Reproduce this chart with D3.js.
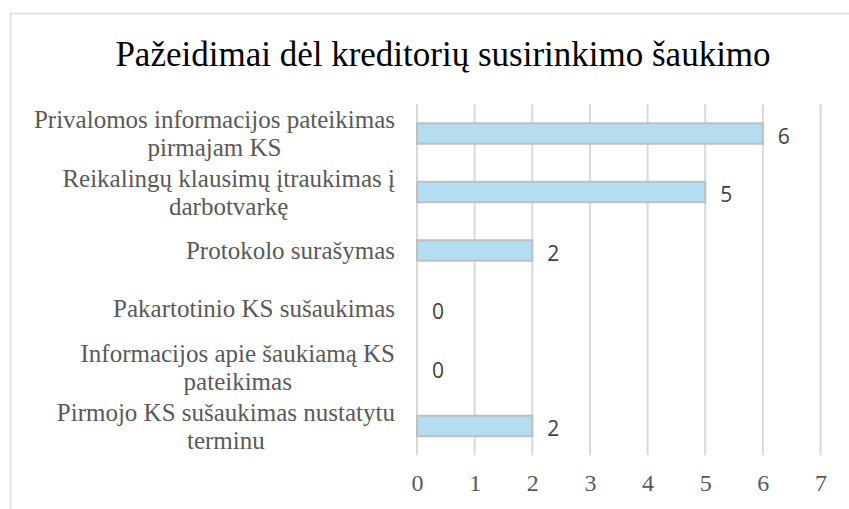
<!DOCTYPE html>
<html>
<head>
<meta charset="utf-8">
<script src="https://cdn.jsdelivr.net/npm/d3@7"></script>
<style>
  html, body { margin: 0; padding: 0; background: #fff; }
  svg { display: block; }
</style>
</head>
<body>
<svg id="chart" width="849" height="509"></svg>
<script>
const title = "Pažeidimai dėl kreditorių susirinkimo šaukimo";
const categories = [
  "Privalomos informacijos pateikimas pirmajam KS",
  "Reikalingų klausimų įtraukimas į darbotvarkę",
  "Protokolo surašymas",
  "Pakartotinio KS sušaukimas",
  "Informacijos apie šaukiamą KS pateikimas",
  "Pirmojo KS sušaukimas nustatytu terminu"
];
const categoryLines = [
  ["Privalomos informacijos pateikimas", "pirmajam KS"],
  ["Reikalingų klausimų įtraukimas į", "darbotvarkę"],
  ["Protokolo surašymas"],
  ["Pakartotinio KS sušaukimas"],
  ["Informacijos apie šaukiamą KS", "pateikimas"],
  ["Pirmojo KS sušaukimas nustatytu", "terminu"]
];
const values = [6, 5, 2, 0, 0, 2];
const xTicks = [0, 1, 2, 3, 4, 5, 6, 7];

const svg = d3.select("#chart");
const serif = "'Liberation Serif', 'Times New Roman', serif";
const sans = "'Open Sans', 'Liberation Sans', sans-serif";

// chart frame
svg.append("rect")
  .attr("x", 10.5).attr("y", 13.5)
  .attr("width", 900).attr("height", 600)
  .attr("fill", "#fff").attr("stroke", "#d9d9d9").attr("stroke-width", 1.5);

// title
svg.append("text")
  .attr("x", 443).attr("y", 66)
  .attr("text-anchor", "middle")
  .attr("font-family", serif).attr("font-size", 35)
  .attr("fill", "#000")
  .text(title);

const x = d3.scaleLinear().domain([0, 7]).range([417, 820.5]);
const y = d3.scaleBand().domain(categories).range([104.25, 455.25]).padding(0);
const barH = y.bandwidth() * 0.35;

// gridlines
svg.append("g").selectAll("line").data(xTicks).join("line")
  .attr("x1", d => x(d)).attr("x2", d => x(d))
  .attr("y1", 104.25).attr("y2", 455.25)
  .attr("stroke", "#d9d9d9").attr("stroke-width", 2);

// x axis labels
const xAxis = d3.axisBottom(x).tickValues(xTicks).tickSize(0).tickPadding(0).tickFormat(d3.format("d"));
const gx = svg.append("g").attr("transform", "translate(0,480)").call(xAxis);
gx.select(".domain").remove();
gx.selectAll("text")
  .attr("font-family", serif).attr("font-size", 24)
  .attr("fill", "#595959").attr("dy", "0.45em");

// bars
svg.append("g").selectAll("rect").data(values).join("rect")
  .attr("x", x(0))
  .attr("y", (d, i) => y(categories[i]) + y.bandwidth() / 2 - barH / 2)
  .attr("width", d => x(d) - x(0))
  .attr("height", barH)
  .attr("fill", "#b4ddf1")
  .attr("stroke", "#bfbfbf").attr("stroke-width", 2)
  .attr("display", d => d > 0 ? null : "none");

// value labels
svg.append("g").selectAll("text").data(values).join("text")
  .attr("x", d => x(d) + 15)
  .attr("y", (d, i) => y(categories[i]) + y.bandwidth() / 2 + 10)
  .attr("font-family", sans).attr("font-size", 21)
  .attr("fill", "#404040")
  .text(d => d);

// category labels
const labelRight = 395;
const lab = svg.append("g");
categoryLines.forEach((lines, i) => {
  const cy = y(categories[i]) + y.bandwidth() / 2;
  const g = lab.append("g");
  const texts = lines.map((ln, k) => g.append("text")
    .attr("font-family", serif).attr("font-size", 25)
    .attr("fill", "#595959")
    .attr("text-anchor", "middle")
    .text(ln));
  const widths = texts.map(t => t.node().getComputedTextLength());
  const maxW = d3.max(widths);
  const cx = labelRight - maxW / 2;
  texts.forEach((t, k) => {
    const base = lines.length === 1 ? cy + 8 : cy - 5.5 + k * 28;
    t.attr("x", cx).attr("y", base);
  });
});
</script>
</body>
</html>
